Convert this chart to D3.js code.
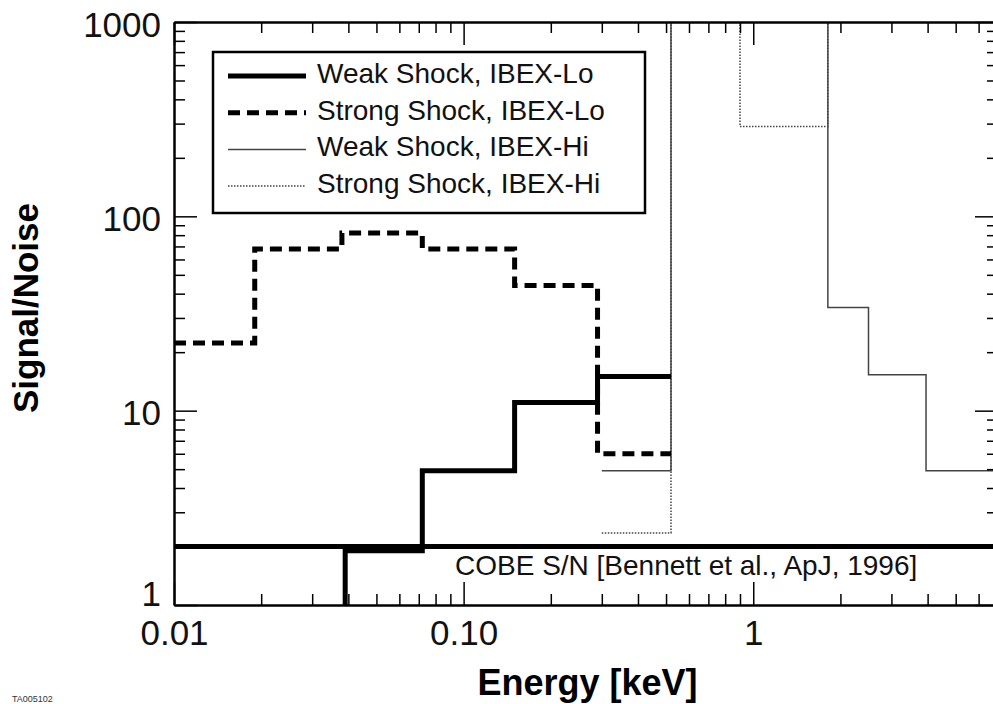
<!DOCTYPE html>
<html>
<head>
<meta charset="utf-8">
<script src="https://cdn.jsdelivr.net/npm/d3@7"></script>
<style>
  body { margin: 0; background: #fff; }
  svg { display: block; font-family: "Liberation Sans", Arial, sans-serif; }
</style>
</head>
<body>
<div id="graph_container"></div>
<script>
// tick labels
var energyTicks = [0.01, 0.1, 1];
var energyTickLabels = ["0.01", "0.10", "1"];
var snTicks = [1, 10, 100, 1000];
var snTickLabels = ["1", "10", "100", "1000"];

// bin edges (keV) and signal/noise per bin
var weakLoEdges = [0.039, 0.072, 0.15, 0.29, 0.52];
var weakLoValues = [1.9, 4.9, 11, 15];
var strongLoEdges = [0.01, 0.019, 0.038, 0.072, 0.15, 0.29, 0.52];
var strongLoValues = [22.3, 68, 82, 68, 44, 6];
var weakHiEdges = [0.30, 0.52, 1.81, 2.5, 3.95, 7];
var weakHiValues = [4.9, 3000, 34, 15.3, 4.9];
var strongHiEdges = [0.30, 0.52, 0.90, 1.81, 7];
var strongHiValues = [2.35, 3000, 290, 3000];
var cobeLevel = 2;

var legendLabels = ["Weak Shock, IBEX-Lo", "Strong Shock, IBEX-Lo", "Weak Shock, IBEX-Hi", "Strong Shock, IBEX-Hi"];

var margin = {top: 22, right: -5, bottom: 99, left: 174},
    W = 993, H = 704,
    w = W - margin.left - margin.right,
    h = H - margin.top - margin.bottom;

var x = d3.scaleLog().domain([0.01, 7]).range([0, w]);
var y = d3.scaleLog().domain([1, 1000]).range([h, 0]);

var styles = [
    {stroke: "#000", width: 5, dash: null},
    {stroke: "#000", width: 5, dash: "12,7"},
    {stroke: "#444", width: 1.5, dash: null},
    {stroke: "#444", width: 1.5, dash: "1.5,1.5"}
];

var svg = d3.select("#graph_container").append("svg")
    .attr("width", W)
    .attr("height", H);

var g = svg.append("g")
    .attr("transform", "translate(" + margin.left + "," + margin.top + ")");

g.append("clipPath").attr("id", "plotclip")
  .append("rect").attr("width", w).attr("height", h);

function stepPoints(edges, values, floor) {
    var pts = [];
    if (floor != null) pts.push([edges[0], floor]);
    values.forEach(function(v, i) {
        pts.push([edges[i], v]);
        pts.push([edges[i + 1], v]);
    });
    return pts;
}

var line = d3.line()
    .x(function(d) { return x(d[0]); })
    .y(function(d) { return y(d[1]); });

var series = [
    stepPoints(weakLoEdges, weakLoValues, 1),
    stepPoints(strongLoEdges, strongLoValues),
    stepPoints(weakHiEdges, weakHiValues),
    stepPoints(strongHiEdges, strongHiValues)
];

var plot = g.append("g").attr("clip-path", "url(#plotclip)");

// COBE reference level
plot.append("line")
    .attr("x1", 0).attr("x2", w)
    .attr("y1", y(cobeLevel)).attr("y2", y(cobeLevel))
    .attr("stroke", "#000").attr("stroke-width", 5);

// thin lines first, thick on top
[3, 2, 1, 0].forEach(function(i) {
    plot.append("path")
        .datum(series[i])
        .attr("d", line)
        .attr("fill", "none")
        .attr("stroke", styles[i].stroke)
        .attr("stroke-width", styles[i].width)
        .attr("stroke-dasharray", styles[i].dash);
});

plot.append("text")
    .attr("x", 455 - margin.left)
    .attr("y", 575 - margin.top)
    .attr("font-size", 28)
    .attr("fill", "#111")
    .text("COBE S/N [Bennett et al., ApJ, 1996]");

// axes: majors with labels, minors without
var xMinor = x.ticks().filter(function(d) { return energyTicks.indexOf(d) < 0; });
var yMinor = y.ticks().filter(function(d) { return snTicks.indexOf(d) < 0; });

function styleAxis(sel) {
    sel.selectAll("path.domain").attr("stroke-width", 2.5);
    sel.selectAll(".tick line").attr("stroke-width", 1.5);
    sel.selectAll("text").attr("font-size", 35).attr("fill", "#111")
        .attr("font-family", "Liberation Sans, Arial, sans-serif");
}

function minorTicks(s) {
    s.select("path.domain").remove();
    s.selectAll(".tick line").attr("stroke-width", 1.5);
}

var axBottom = g.append("g").attr("transform", "translate(0," + h + ")")
    .call(d3.axisBottom(x).tickValues(energyTicks)
        .tickFormat(function(d, i) { return energyTickLabels[i]; })
        .tickSizeInner(-23).tickSizeOuter(0).tickPadding(15));
g.append("g").attr("transform", "translate(0," + h + ")")
    .call(d3.axisBottom(x).tickValues(xMinor).tickFormat("").tickSizeInner(-11).tickSizeOuter(0))
    .call(minorTicks);

var axTop = g.append("g")
    .call(d3.axisTop(x).tickValues(energyTicks).tickFormat("").tickSizeInner(-23).tickSizeOuter(0));
g.append("g")
    .call(d3.axisTop(x).tickValues(xMinor).tickFormat("").tickSizeInner(-11).tickSizeOuter(0))
    .call(minorTicks);

var axLeft = g.append("g")
    .call(d3.axisLeft(y).tickValues(snTicks)
        .tickFormat(function(d, i) { return snTickLabels[i]; })
        .tickSizeInner(-23).tickSizeOuter(0).tickPadding(13));
g.append("g")
    .call(d3.axisLeft(y).tickValues(yMinor).tickFormat("").tickSizeInner(-11).tickSizeOuter(0))
    .call(minorTicks);

var axRight = g.append("g").attr("transform", "translate(" + w + ",0)")
    .call(d3.axisRight(y).tickValues(snTicks).tickFormat("").tickSizeInner(-23).tickSizeOuter(0));
g.append("g").attr("transform", "translate(" + w + ",0)")
    .call(d3.axisRight(y).tickValues(yMinor).tickFormat("").tickSizeInner(-11).tickSizeOuter(0))
    .call(minorTicks);

[axBottom, axTop, axLeft, axRight].forEach(styleAxis);
axLeft.selectAll("text").attr("dy", function(d) { return d === 1 ? "0em" : "0.4em"; });

// axis titles
svg.append("text")
    .attr("x", (margin.left + W) / 2 + 4)
    .attr("y", 695)
    .attr("text-anchor", "middle")
    .attr("font-size", 36).attr("font-weight", "bold")
    .text("Energy [keV]");

svg.append("text")
    .attr("transform", "translate(38,308) rotate(-90)")
    .attr("text-anchor", "middle")
    .attr("font-size", 35).attr("font-weight", "bold")
    .text("Signal/Noise");

svg.append("text")
    .attr("x", 12).attr("y", 702)
    .attr("font-size", 9).attr("fill", "#333")
    .text("TA005102");

// legend
var legend = svg.append("g");
legend.append("rect")
    .attr("x", 213).attr("y", 52).attr("width", 432).attr("height", 161)
    .attr("fill", "#fff").attr("stroke", "#000").attr("stroke-width", 2.5);

legendLabels.forEach(function(label, i) {
    var by = 83 + i * 36.7;
    legend.append("line")
        .attr("x1", 228).attr("x2", 306)
        .attr("y1", by - 7).attr("y2", by - 7)
        .attr("stroke", styles[i].stroke)
        .attr("stroke-width", styles[i].width)
        .attr("stroke-dasharray", styles[i].dash);
    legend.append("text")
        .attr("x", 317).attr("y", by)
        .attr("font-size", 28).attr("fill", "#111")
        .text(label);
});
</script>
</body>
</html>
